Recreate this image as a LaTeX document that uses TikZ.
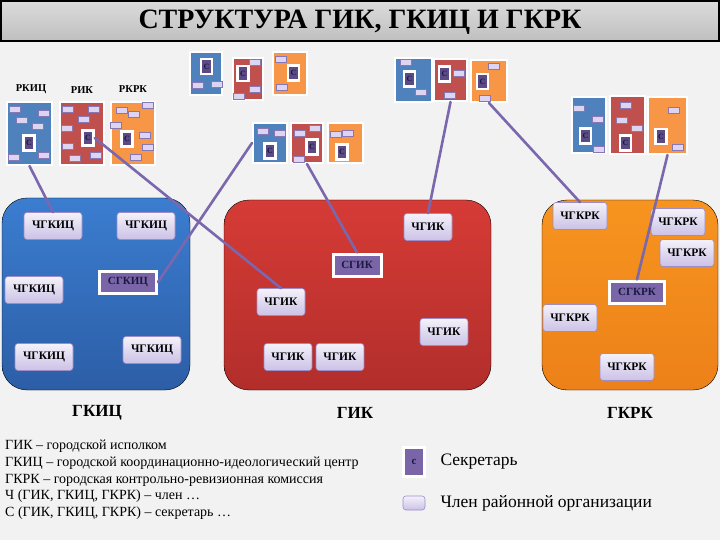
\documentclass[tikz,border=0pt]{standalone}
\usepackage{fontspec}
\setmainfont{Liberation Serif}
\usetikzlibrary{positioning}

\definecolor{bgcol}{HTML}{F2F2F2}
\definecolor{sblue}{HTML}{4F81BD}
\definecolor{sred}{HTML}{C0504D}
\definecolor{sorange}{HTML}{F79646}
\definecolor{bluetop}{HTML}{3B7DD0}
\definecolor{bluebot}{HTML}{2C5EA6}
\definecolor{redtop}{HTML}{D63B36}
\definecolor{redbot}{HTML}{B22E2B}
\definecolor{ortop}{HTML}{F7941F}
\definecolor{orbot}{HTML}{EC8119}
\definecolor{memtop}{HTML}{F4F2FA}
\definecolor{membot}{HTML}{CBC1E6}
\definecolor{memedge}{HTML}{9C8CC8}
\definecolor{secmid}{HTML}{7A65A8}
\definecolor{secnavy}{HTML}{1A1A40}
\definecolor{secdark}{HTML}{5B4A85}
\definecolor{minifill}{HTML}{DCD4F0}
\definecolor{miniedge}{HTML}{8877B5}
\definecolor{connc}{HTML}{7B67AD}

\begin{document}
\begin{tikzpicture}[x=1pt,y=-1pt,
	orgbox/.style={draw=white,line width=2pt,inner sep=0pt},
	smallsec/.style={fill=secdark,draw=white,line width=2.5pt,minimum width=11,minimum height=15,
		inner sep=0pt,font=\bfseries\fontsize{8}{8}\selectfont,text=secnavy},
	minimember/.style={draw=miniedge,line width=0.5pt,fill=minifill},
	memberbox/.style={rounded corners=3pt,draw=memedge,line width=0.6pt,top color=memtop,
		bottom color=membot,minimum height=27,inner sep=0pt,font=\bfseries\fontsize{11.5}{11.5}\selectfont},
	secbox/.style={fill=secmid,draw=white,line width=3pt,inner sep=0pt,minimum height=22,
		font=\bfseries\fontsize{11}{11}\selectfont,text=secnavy},
	bigbox/.style={rounded corners=25pt},
	conn/.style={draw=connc,line width=2.6pt,line cap=round},
	grouplabel/.style={font=\bfseries\fontsize{10.5}{10.5}\selectfont},
	citylabel/.style={font=\bfseries\fontsize{17}{17}\selectfont}
	]
	% background and page size
	\fill[bgcol] (0,0) rectangle (720,540);
	\useasboundingbox (0,0) rectangle (720,540);

	% title bar
	\draw[line width=1.2pt,top color=gray!28,middle color=white!97!gray,bottom color=gray!50]
		(1,1) rectangle (719,41);
	\node[font=\bfseries\fontsize{28}{30}\selectfont] (title) at (360,22) {СТРУКТУРА ГИК, ГКИЦ И ГКРК};

	% the three big organisations
	\draw[bigbox,top color=bluetop,bottom color=bluebot] (2,198) rectangle (190,390);
	\draw[bigbox,top color=redtop,bottom color=redbot] (224,200) rectangle (491,390);
	\draw[bigbox,top color=ortop,bottom color=orbot] (542,200) rectangle (718,390);

	% district organisations (small boxes)
	\foreach \n/\x/\y/\w/\h/\c in {
		aB/29.5/133.5/45/63/sblue, aR/82/133.5/44/63/sred, aO/133/133.5/44/63/sorange,
		bB/206/73.5/32/43/sblue, bR/248/79/30/42/sred, bO/290/73.5/34/43/sorange,
		cB/270/143/34/40/sblue, cR/307/143/32/40/sred, cO/345.5/143/35/40/sorange,
		dB/413.5/80/37/44/sblue, dR/450.5/80/33/42/sred, dO/489/81/36/42/sorange,
		eB/589/125/34/56/sblue, eR/627.5/125/35/58/sred, eO/667.5/125.5/39/57/sorange}
	\node[orgbox,fill=\c,minimum width=\w,minimum height=\h] (\n) at (\x,\y) {};

	% members of the district organisations
	\foreach \x/\y in {
		15/109.5, 43.5/113, 22/120, 38/126, 13.5/157.5, 43.5/155.5,
		68/109.5, 93.5/109.5, 84/119.5, 67/128.5, 68/146.5, 96/155, 75/158.5,
		122/110.5, 133.5/114.5, 148/105, 116/125.5, 145/135, 148/147, 136/157,
		198/85, 217/84, 254.5/62, 255/89, 238.5/96, 281/59, 281.5/87.5,
		263/131, 280/133, 300/133, 315/128, 299/159.5, 336/134.5, 347.5/133,
		406/62, 421/92.5, 458.5/73, 450/95, 493.5/66.5, 485/98.5,
		579/108, 597.5/119.5, 599/149, 625.5/105.5, 621.5/120, 636.5/128,
		673.5/110.5, 677.5/147.5}
	\draw[minimember] (\x-5.5,\y-3) rectangle ++(11,6);

	% secretaries of the district organisations
	\foreach \n/\x/\y in {
		aBs/29/143, aRs/88/138, aOs/127/139,
		bBs/206.5/66.5, bRs/243/73.5, bOs/293.5/73,
		cBs/270/151, cRs/312/147, cOs/342/152,
		dBs/409.5/79, dRs/444.5/74, dOs/482.5/81.5,
		eBs/585.5/136, eRs/625.5/143, eOs/661/136.5}
	\node[smallsec] (\n) at (\x,\y) {С};

	\node[grouplabel] (rkic) at (31,89) {РКИЦ};
	\node[grouplabel] (rik) at (82,90) {РИК};
	\node[grouplabel] (rkrk) at (133,89) {РКРК};

	% members of ГКИЦ
	\foreach \n/\x/\y in {kic1/53/226, kic2/146/226, kic3/34/290, kic4/44/357, kic5/152/350}
	\node[memberbox,minimum width=58] (\n) at (\x,\y) {ЧГКИЦ};
	\node[secbox,minimum width=57] (skic) at (128,282) {СГКИЦ};

	% members of ГИК
	\foreach \n/\x/\y in {gik1/428/227, gik2/281/302, gik3/444/332, gik4/288/357, gik5/340/357}
	\node[memberbox,minimum width=48] (\n) at (\x,\y) {ЧГИК};
	\node[secbox,minimum width=48] (sgik) at (357,265) {СГИК};

	% members of ГКРК
	\foreach \n/\x/\y in {krk1/580/216, krk2/678/222, krk3/687/253, krk4/570/318, krk5/627/367}
	\node[memberbox,minimum width=54] (\n) at (\x,\y) {ЧГКРК};
	\node[secbox,minimum width=55] (skrk) at (637,292) {СГКРК};

	% who goes where
	\draw[conn] (aB.south) -- (kic1.north);
	\draw[conn] (aRs.east) -- (gik2.north);
	\draw[conn] (cB.west) -- (skic.east);
	\draw[conn] (cR.south) -- (sgik.north);
	\draw[conn] (dR.south) -- (gik1.north);
	\draw[conn] (dO.south) -- (krk1.north);
	\draw[conn] (eO.south) -- (skrk.north);

	% names under the boxes
	\node[citylabel] (lkic) at (97,413) {ГКИЦ};
	\node[citylabel] (lgik) at (355,413) {ГИК};
	\node[citylabel] (lkrk) at (630,413) {ГКРК};

	% abbreviations
	\node[anchor=north west,align=left,inner sep=0pt,font=\fontsize{14}{16.7}\selectfont] (defs) at (5,440) {
		ГИК – городской исполком\\
		ГКИЦ – городской координационно-идеологический центр\\
		ГКРК – городская контрольно-ревизионная комиссия\\
		Ч (ГИК, ГКИЦ, ГКРК) – член …\\
		С (ГИК, ГКИЦ, ГКРК) – секретарь …};

	% legend
	\node[fill=secmid,draw=white,line width=3pt,minimum width=21,minimum height=29,inner sep=0pt,
		font=\bfseries\fontsize{11}{11}\selectfont,text=secnavy] (keysec) at (414,462) {с};
	\node[anchor=west,font=\fontsize{17.5}{17.5}\selectfont] (keysectxt) at (437,462) {Секретарь};
	\node[rounded corners=3pt,draw=memedge,line width=0.6pt,top color=memtop,bottom color=membot,
		minimum width=22,minimum height=14,inner sep=0pt] (keymem) at (414,503) {};
	\node[anchor=west,font=\fontsize{17.5}{17.5}\selectfont] (keymemtxt) at (437,503) {Член районной организации};
\end{tikzpicture}
\end{document}
